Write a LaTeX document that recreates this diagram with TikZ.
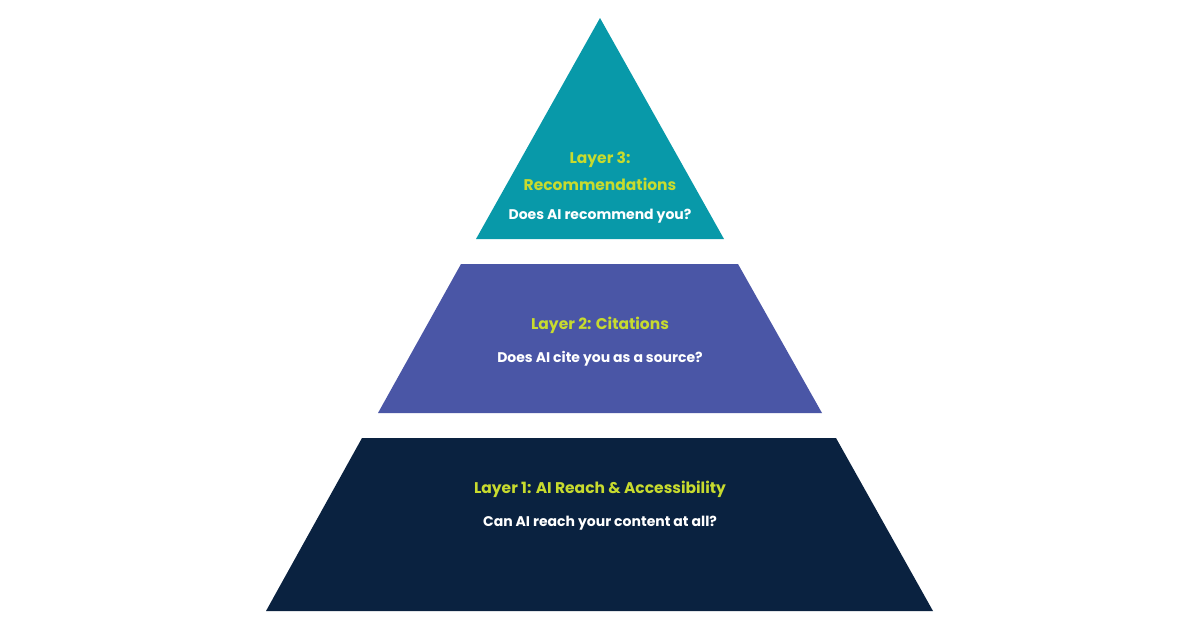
\documentclass[tikz,border=0pt]{standalone}
\usepackage{fontspec}
\setmainfont{Poppins}
\begin{document}
\begin{tikzpicture}[x=1pt,y=-1pt,
  title/.style={font=\fontsize{15.5}{18}\selectfont\bfseries, text=ylw, align=center},
  q/.style={font=\fontsize{14}{17}\selectfont\bfseries, text=white}]
\definecolor{teal3}{HTML}{0899A9}
\definecolor{purp}{HTML}{4A56A6}
\definecolor{navy}{HTML}{0A2240}
\definecolor{ylw}{HTML}{C8DB2E}
\useasboundingbox (0,0) rectangle (1200,630);
\fill[white] (0,0) rectangle (1200,630);
\fill[teal3] (600,18) -- (724,239) -- (476,239) -- cycle;
\fill[purp] (461,264) -- (738,264) -- (822,413) -- (378,413) -- cycle;
\fill[navy] (362,438) -- (836,438) -- (933,611) -- (266,611) -- cycle;
\node[title] (t3a) at (600,160) {Layer 3:};
\node[title] (t3b) at (600,184) {Recommendations};
\node[q] (q3) at (600,216) {Does AI recommend you?};
\node[title] (t2) at (600,325) {Layer 2: Citations};
\node[q] (q2) at (600,359) {Does AI cite you as a source?};
\node[title] (t1) at (600,489) {Layer 1: AI Reach \& Accessibility};
\node[q] (q1) at (600,523) {Can AI reach your content at all?};
\end{tikzpicture}
\end{document}
